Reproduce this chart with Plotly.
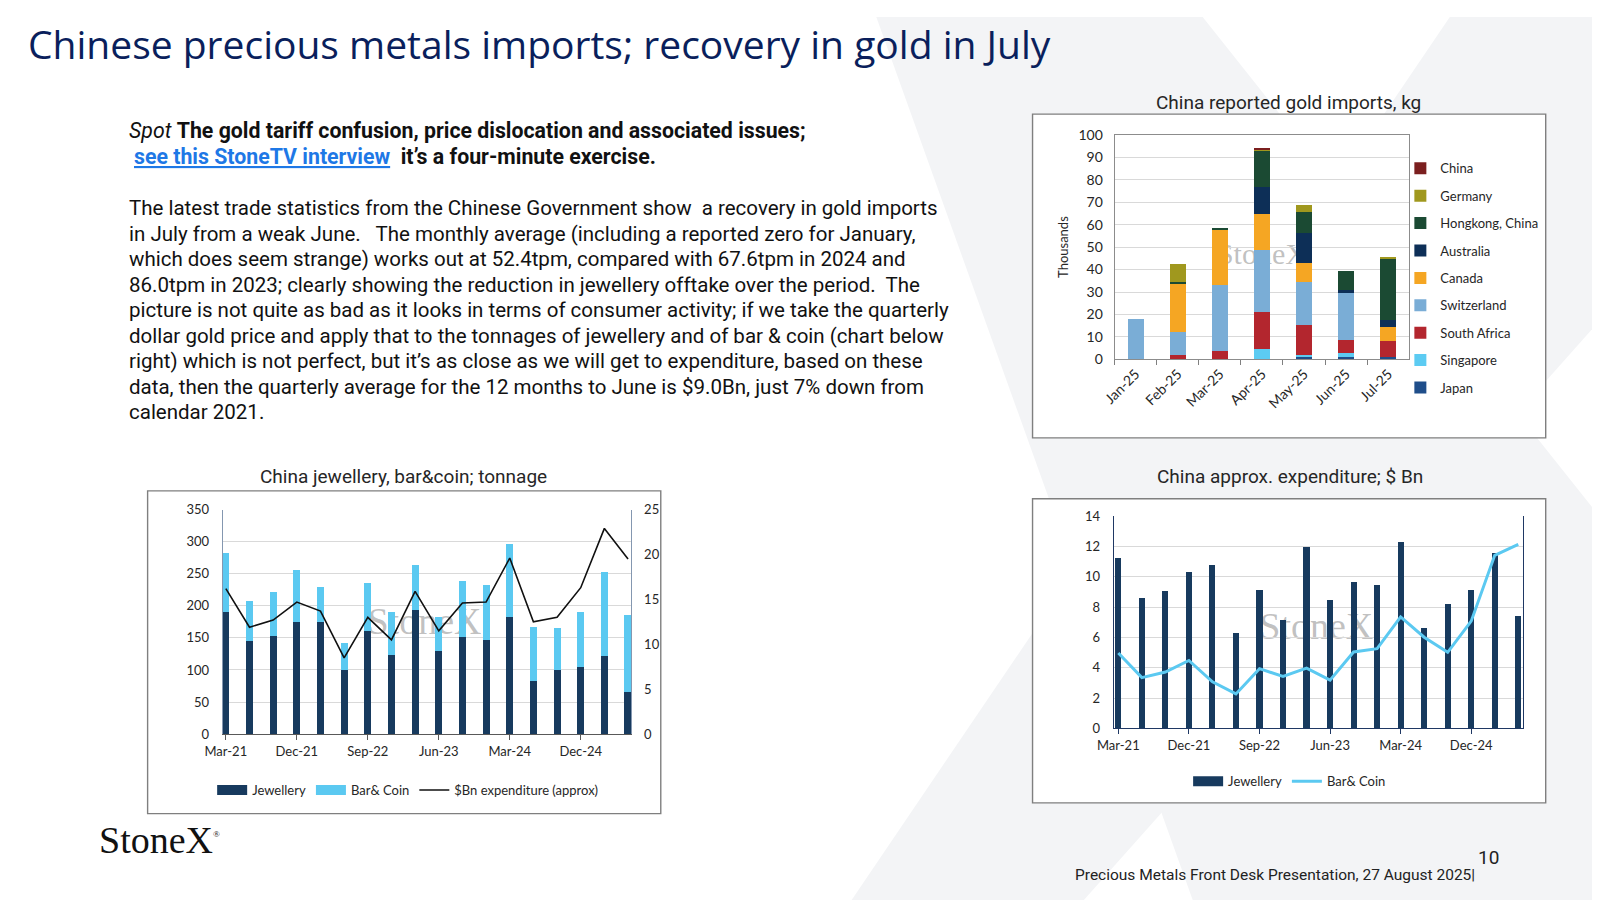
import plotly.graph_objects as go

W, H = 1600, 900


def px(x):
    return x / W


def py(y):
    return 1 - y / H


# ---- data: China reported gold imports (thousand kg) ----
months = ["Jan-25", "Feb-25", "Mar-25", "Apr-25", "May-25", "Jun-25", "Jul-25"]
japan = [0, 0, 0, 0.4, 0.9, 0.9, 0.9]
singapore = [0, 0, 0, 4.4, 0.9, 1.9, 0]
south_africa = [0, 2.1, 3.7, 16.5, 13.5, 5.8, 7.5]
switzerland = [17.8, 10.3, 29.2, 27.3, 19.2, 20.8, 0]
canada = [0, 21.1, 24.9, 16.3, 8.6, 0, 6.2]
australia = [0, 0, 0, 11.8, 13.1, 1.7, 3.0]
hongkong = [0, 1.1, 0.9, 16.4, 9.2, 8.2, 27.4]
germany = [0, 8.0, 0, 0.3, 3.2, 0, 0.4]
china = [0, 0, 0, 0.4, 0, 0, 0]

# ---- data: jewellery, bar & coin tonnage + expenditure ----
quarters = ["Mar-21", "Jun-21", "Sep-21", "Dec-21", "Mar-22", "Jun-22", "Sep-22", "Dec-22",
            "Mar-23", "Jun-23", "Sep-23", "Dec-23", "Mar-24", "Jun-24", "Sep-24", "Dec-24",
            "Mar-25", "Jun-25"]
jewellery_t = [191, 145, 153, 174, 174, 100, 161, 124, 193, 130, 152, 146, 182, 83, 100, 104, 122, 66]
barcoin_t = [91, 62, 69, 82, 55, 42, 74, 66, 70, 53, 86, 87, 114, 84, 66, 87, 130, 119]
spend_bn = [16.2, 11.9, 12.7, 14.7, 13.7, 8.5, 13.0, 10.5, 15.9, 11.5, 14.6, 14.7, 19.6, 12.5,
            13.0, 16.3, 22.9, 19.5]

# ---- data: approx expenditure ($ Bn) ----
jewellery_bn = [11.25, 8.6, 9.05, 10.3, 10.8, 6.3, 9.15, 7.15, 11.95, 8.45, 9.65, 9.45, 12.3,
                6.6, 8.2, 9.15, 11.55, 7.4]
barcoin_bn = [4.98, 3.35, 3.72, 4.48, 3.07, 2.27, 3.94, 3.42, 3.98, 3.18, 5.04, 5.26, 7.36,
              6.02, 5.02, 7.08, 11.43, 12.15]

qticks = ["Mar-21", "Dec-21", "Sep-22", "Jun-23", "Mar-24", "Dec-24"]

CHART_FONT = "Lato"
NAVY = "#173A5E"
SKY = "#5BC9F1"

fig = go.Figure()

# top chart: stacked imports by origin (first trace sits at the bottom)
imports = [
    ("Japan", japan, "#1F4E8A"),
    ("Singapore", singapore, "#5CCBF2"),
    ("South Africa", south_africa, "#B3262E"),
    ("Switzerland", switzerland, "#7AADD6"),
    ("Canada", canada, "#F5A623"),
    ("Australia", australia, "#0D2F57"),
    ("Hongkong, China", hongkong, "#1B4A33"),
    ("Germany", germany, "#A0981E"),
    ("China", china, "#7B1F1F"),
]
for i, (name, vals, col) in enumerate(imports):
    fig.add_trace(go.Bar(
        x=months, y=vals, name=name, marker_color=col, marker_line_width=0,
        width=0.38, xaxis="x", yaxis="y", legend="legend", legendgroup=name,
        legendrank=100 - i,
    ))

# bottom-left: tonnage stacked + expenditure line
fig.add_trace(go.Bar(x=quarters, y=jewellery_t, name="Jewellery", marker_color=NAVY,
                     marker_line_width=0, width=0.3, xaxis="x2", yaxis="y2",
                     showlegend=False))
fig.add_trace(go.Bar(x=quarters, y=barcoin_t, name="Bar& Coin", marker_color=SKY,
                     marker_line_width=0, width=0.3, xaxis="x2", yaxis="y2",
                     showlegend=False))
# wide legend keys like the Excel ones
fig.add_trace(go.Scatter(x=[None], y=[None], name="Jewellery", mode="lines",
                         line=dict(color=NAVY, width=10), xaxis="x2", yaxis="y2",
                         legend="legend2"))
fig.add_trace(go.Scatter(x=[None], y=[None], name="Bar& Coin", mode="lines",
                         line=dict(color=SKY, width=10), xaxis="x2", yaxis="y2",
                         legend="legend2"))
fig.add_trace(go.Scatter(x=quarters, y=spend_bn, name="$Bn expenditure (approx)", mode="lines",
                         line=dict(color="#111111", width=1.6), xaxis="x2", yaxis="y3",
                         legend="legend2"))

# bottom-right: expenditure
fig.add_trace(go.Bar(x=quarters, y=jewellery_bn, name="Jewellery", marker_color=NAVY,
                     marker_line_width=0, width=0.26, xaxis="x3", yaxis="y4",
                     showlegend=False))
fig.add_trace(go.Scatter(x=[None], y=[None], name="Jewellery", mode="lines",
                         line=dict(color=NAVY, width=10), xaxis="x3", yaxis="y4",
                         legend="legend3"))
fig.add_trace(go.Scatter(x=quarters, y=barcoin_bn, name="Bar& Coin", mode="lines",
                         line=dict(color=SKY, width=3), xaxis="x3", yaxis="y4",
                         legend="legend3"))

tickfont = dict(family=CHART_FONT, size=13, color="#262626")
tickfont_top = dict(family=CHART_FONT, size=14, color="#262626")
grid = "#D9D9D9"

fig.update_layout(
    width=W, height=H,
    margin=dict(l=0, r=0, t=0, b=0),
    paper_bgcolor="white",
    plot_bgcolor="rgba(0,0,0,0)",
    barmode="stack",
    showlegend=True,
    xaxis=dict(domain=[px(1101), px(1399)], anchor="y", type="category",
               tickangle=-45, tickfont=tickfont_top, ticks="outside", tickson="boundaries",
               ticklen=5, tickcolor="#808080", showline=True, linecolor="#8C8C8C",
               mirror=True, showgrid=False),
    yaxis=dict(domain=[py(349), py(120)], anchor="x", range=[0, 100], dtick=10,
               tickfont=tickfont_top, gridcolor=grid, showline=True, linecolor="#8C8C8C",
               mirror=True, ticks="", ticklabelstandoff=8,
               title=dict(text="Thousands", font=dict(family=CHART_FONT, size=13,
                                                      color="#262626"), standoff=6)),
    xaxis2=dict(domain=[px(199), px(612)], anchor="y2", type="category",
                range=[-0.13, 17.13], tickmode="array", tickvals=qticks, ticktext=qticks,
                tickangle=0, tickfont=tickfont, ticks="outside", ticklen=5,
                tickcolor="#595959", showline=True, linecolor="#595959", showgrid=False),
    yaxis2=dict(domain=[py(731), py(502)], anchor="x2", range=[0, 350], dtick=50,
                tickfont=tickfont, gridcolor=grid, showline=True, linecolor="#8497B0",
                mirror=True, ticklabelstandoff=10),
    yaxis3=dict(overlaying="y2", anchor="x2", side="right", range=[0, 25], dtick=5,
                tickfont=tickfont, showgrid=False, ticklabelstandoff=12, showline=False),
    xaxis3=dict(domain=[px(1100), px(1514)], anchor="y4", type="category",
                range=[-0.2, 17.2], tickmode="array", tickvals=qticks, ticktext=qticks,
                tickangle=0, tickfont=tickfont, ticks="outside", ticklen=5,
                tickcolor="#1F3864", showline=True, linecolor="#1F3864", showgrid=False),
    yaxis4=dict(domain=[py(725), py(509)], anchor="x3", range=[0, 14], dtick=2,
                tickfont=tickfont, gridcolor=grid, showline=True, linecolor="#1F3864",
                mirror=True, ticklabelstandoff=10),
    legend=dict(x=px(1390), y=py(139), xanchor="left", yanchor="top",
                traceorder="grouped", tracegroupgap=7.5, itemwidth=30,
                font=dict(family=CHART_FONT, size=13, color="#262626"),
                bgcolor="rgba(0,0,0,0)"),
    legend2=dict(x=px(386), y=py(788), xanchor="center", yanchor="middle",
                 orientation="h", itemwidth=30, traceorder="normal",
                 font=dict(family=CHART_FONT, size=13, color="#262626"),
                 bgcolor="rgba(0,0,0,0)"),
    legend3=dict(x=px(1278), y=py(779), xanchor="center", yanchor="middle",
                 orientation="h", itemwidth=30, traceorder="normal",
                 font=dict(family=CHART_FONT, size=13, color="#262626"),
                 bgcolor="rgba(0,0,0,0)"),
)


def poly(pts):
    return "M " + " L ".join(f"{px(x):.4f},{py(y):.4f}" for x, y in pts) + " Z"


bg_grey = "#F3F4F6"
shapes = [
    # faint StoneX "X" watermark behind the slide
    dict(type="path", xref="paper", yref="paper", layer="below", line_width=0,
         fillcolor=bg_grey,
         path=poly([(860, 0), (1190, 0), (1600, 520), (1600, 900), (1180, 900)])),
    dict(type="path", xref="paper", yref="paper", layer="below", line_width=0,
         fillcolor=bg_grey,
         path=poly([(835, 900), (1070, 900), (1600, 300), (1600, 0), (1440, 0)])),
]
# chart frames
for x0, y0, x1, y1 in [(1018, 99, 1537, 429), (123, 483, 642, 812), (1018, 491, 1537, 801)]:
    shapes.append(dict(type="rect", xref="paper", yref="paper", layer="below",
                       x0=px(x0), x1=px(x1), y0=py(y1), y1=py(y0),
                       fillcolor="white", line=dict(color="#7F7F7F", width=1.4)))
# StoneX watermarks inside the charts (behind the bars)
for cx, cy, w, h, fs in [(1250, 238, 90, 34, 30), (403, 612, 120, 40, 38),
                         (1305, 617, 120, 40, 38)]:
    shapes.append(dict(type="rect", xref="paper", yref="paper", layer="below",
                       x0=px(cx - w / 2), x1=px(cx + w / 2), y0=py(cy + h / 2),
                       y1=py(cy - h / 2), line_width=0, fillcolor="rgba(0,0,0,0)",
                       label=dict(text="StoneX", textposition="middle center",
                                  font=dict(family="Liberation Serif", size=fs,
                                            color="rgba(140,140,140,0.55)"))))
fig.update_layout(shapes=shapes)

BODY_FONT = "Roboto"
ann = []


def txt(x, y, text, size, color="#111111", family=BODY_FONT, xanchor="left"):
    ann.append(dict(x=px(x), y=py(y), xref="paper", yref="paper", text=text,
                    showarrow=False, xanchor=xanchor, yanchor="middle", align="left",
                    font=dict(family=family, size=size, color=color)))


txt(0, 27, "Chinese precious metals imports; recovery in gold in July", 39,
    color="#0A1F5C", family="Open Sans")

txt(102, 116, "<i>Spot</i> <b>The gold tariff confusion, price dislocation and associated issues;</b>", 21.3)
txt(107, 142, "<a href='#' style='color:#1E78E6'><b><span style='text-decoration:underline'>"
    "see this StoneTV interview</span></b></a>  <b>it’s a four-minute exercise.</b>", 21.3)

body = [
    "The latest trade statistics from the Chinese Government show  a recovery in gold imports",
    "in July from a weak June.   The monthly average (including a reported zero for January,",
    "which does seem strange) works out at 52.4tpm, compared with 67.6tpm in 2024 and",
    "86.0tpm in 2023; clearly showing the reduction in jewellery offtake over the period.  The",
    "picture is not quite as bad as it looks in terms of consumer activity; if we take the quarterly",
    "dollar gold price and apply that to the tonnages of jewellery and of bar & coin (chart below",
    "right) which is not perfect, but it’s as close as we will get to expenditure, based on these",
    "data, then the quarterly average for the 12 months to June is $9.0Bn, just 7% down from",
    "calendar 2021.",
]
for i, line in enumerate(body):
    txt(102, 195 + i * 26, line, 20.5)

# chart titles
txt(1277, 87, "China reported gold imports, kg", 19, color="#262626", xanchor="center")
txt(382, 468, "China jewellery, bar&coin; tonnage", 19, color="#262626", xanchor="center")
txt(1278, 468, "China approx. expenditure; $ Bn", 19, color="#262626", xanchor="center")

# logo + footer
txt(72, 839, "StoneX<sup><span style='font-size:9px'>®</span></sup>", 38, color="#111111",
    family="Liberation Serif")
txt(1468, 875, "Precious Metals Front Desk Presentation, 27 August 2025|", 15.5,
    color="#222222", xanchor="right")
txt(1466, 857, "10", 19, color="#222222")

fig.update_layout(annotations=ann)

fig.write_html("out.html")
